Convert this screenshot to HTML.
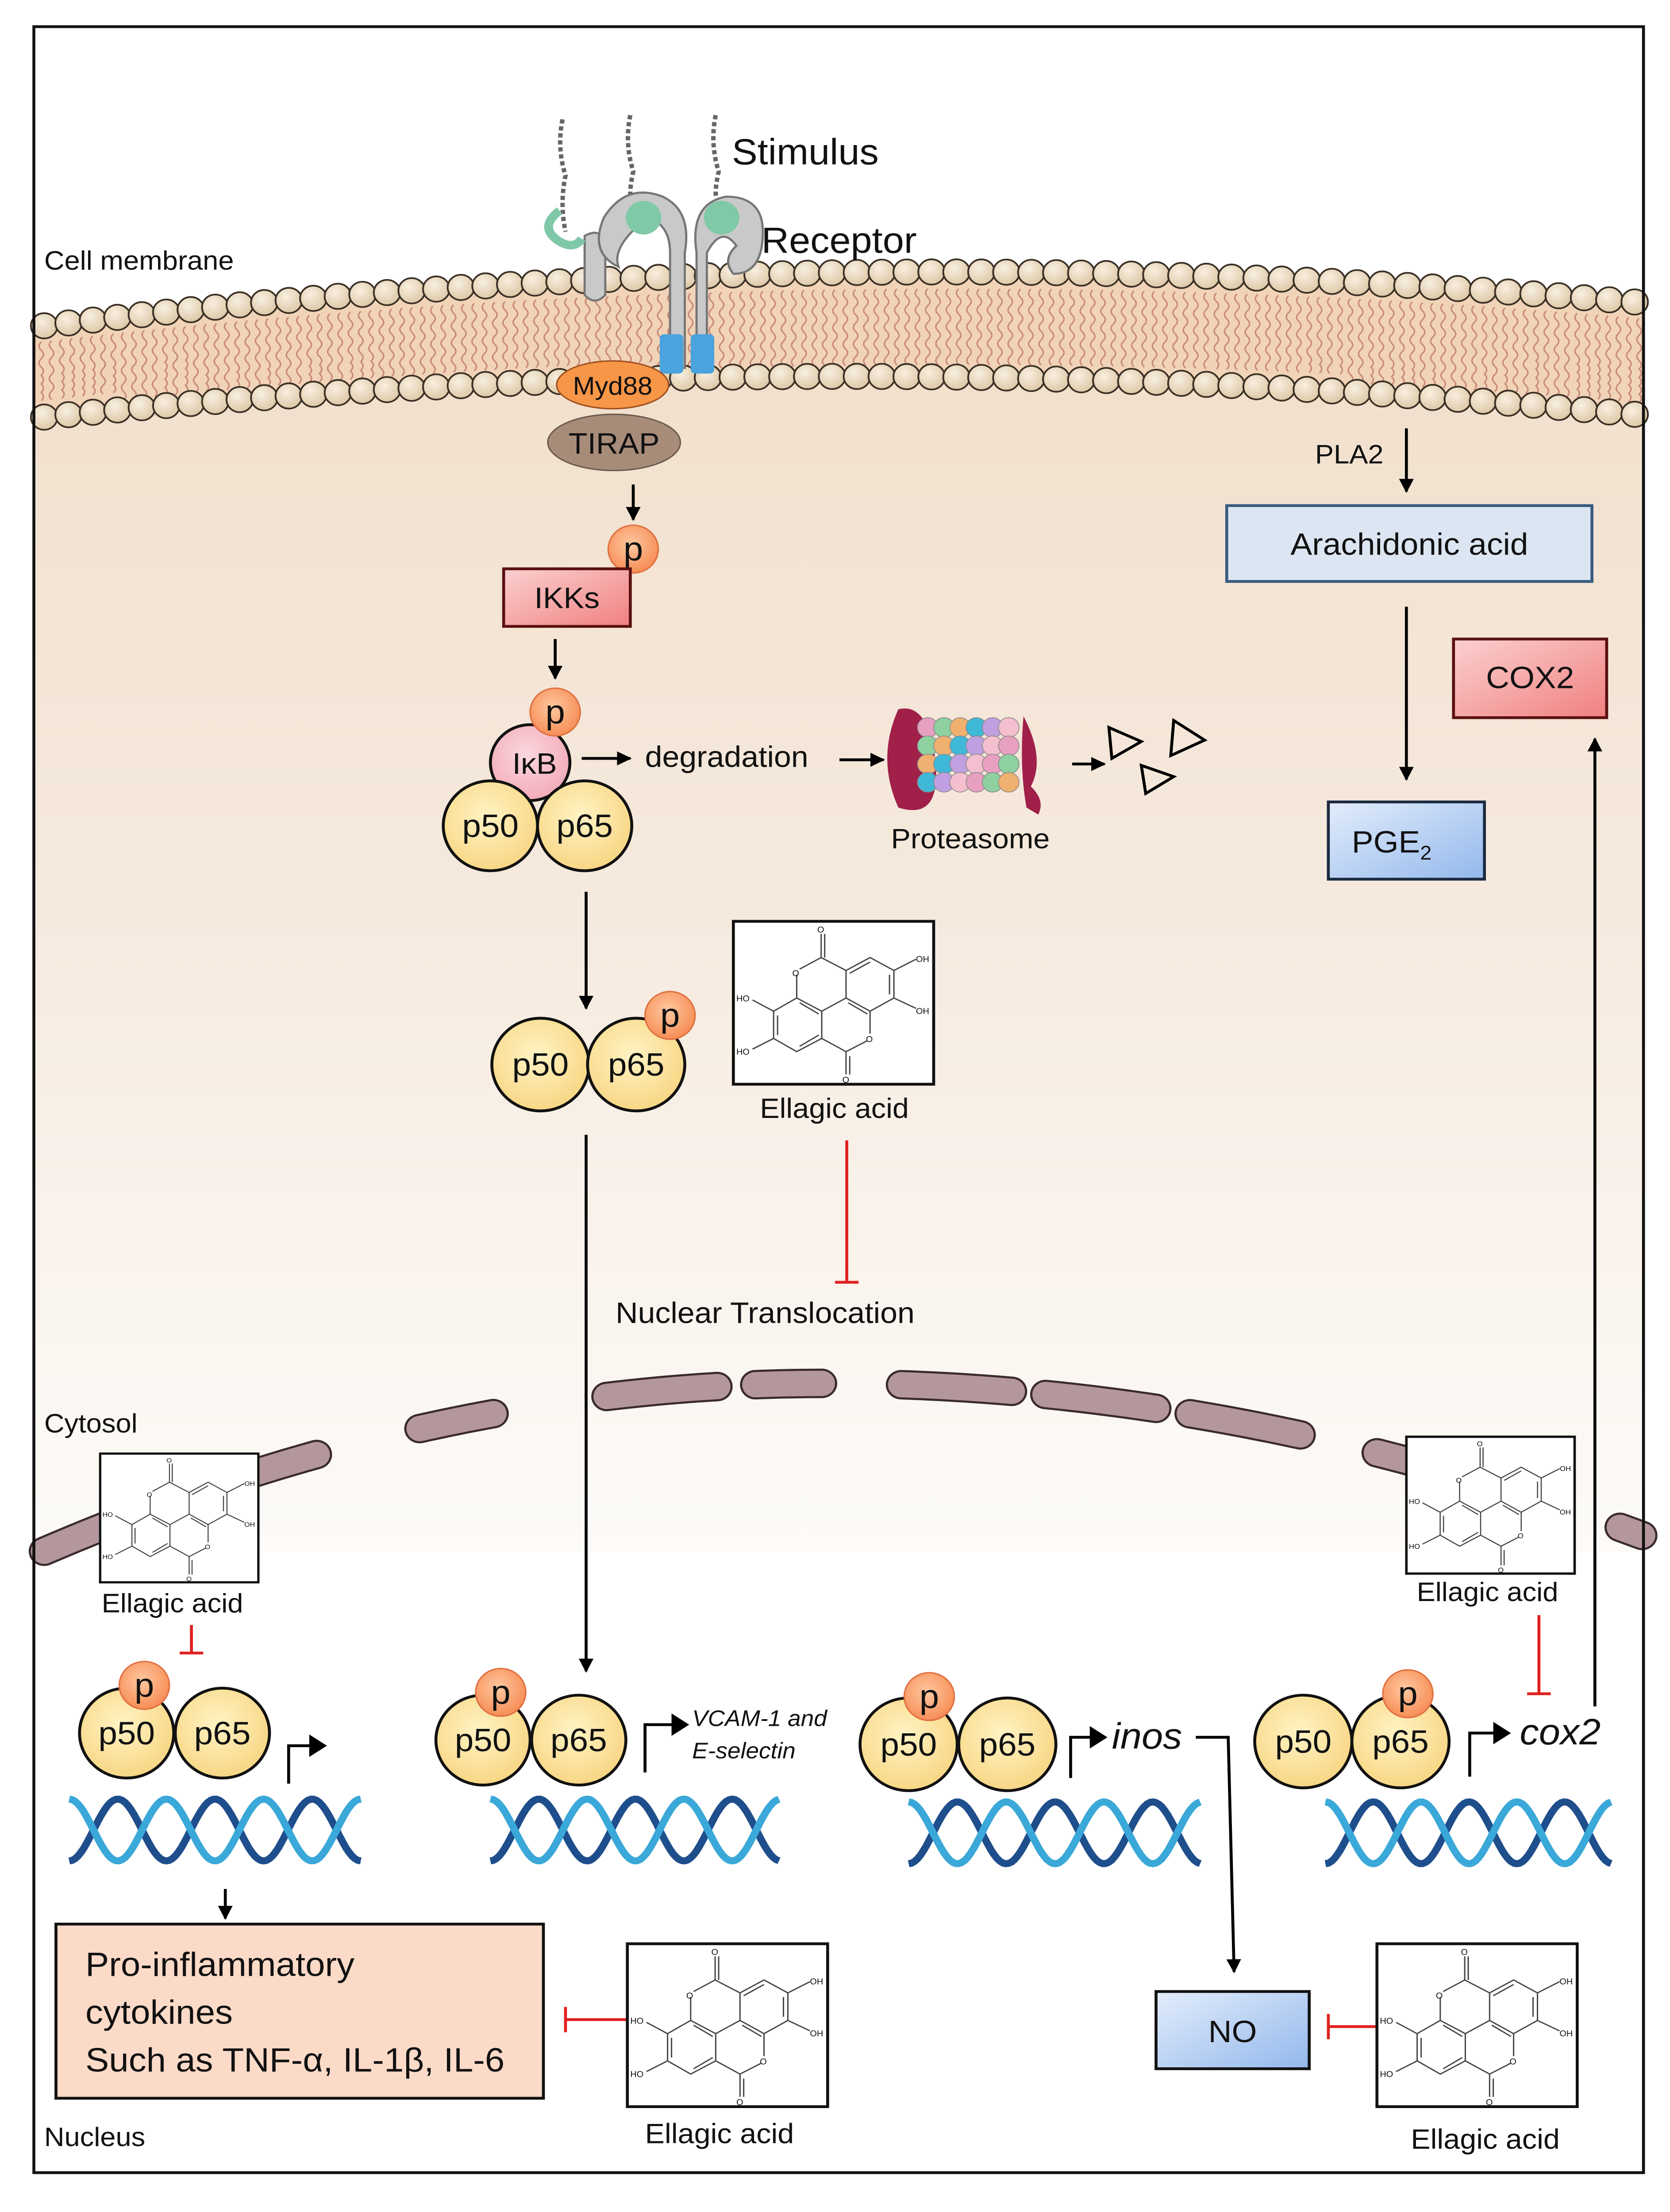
<!DOCTYPE html>
<html><head><meta charset="utf-8"><style>
html,body{margin:0;padding:0;background:#fff;width:100%;height:100%;overflow:hidden}
svg{display:block;width:100vw;height:100vh;position:absolute;left:0;top:0}
text{font-family:"Liberation Sans",sans-serif;fill:#111}
</style></head><body>
<svg id="s" viewBox="0 0 1134 1575" preserveAspectRatio="none" xmlns="http://www.w3.org/2000/svg">
<defs>
<linearGradient id="cyt" x1="0" y1="0" x2="0" y2="1">
<stop offset="0" stop-color="#f1dfcb"/><stop offset="0.5" stop-color="#f6ebe0"/><stop offset="1" stop-color="#fdfbf8"/></linearGradient>
<radialGradient id="yel" cx="0.45" cy="0.4" r="0.7"><stop offset="0" stop-color="#fff3c4"/><stop offset="1" stop-color="#f7d27a"/></radialGradient>
<radialGradient id="org" cx="0.45" cy="0.4" r="0.7"><stop offset="0" stop-color="#ffc8a0"/><stop offset="1" stop-color="#f5844a"/></radialGradient>
<radialGradient id="pnk" cx="0.45" cy="0.4" r="0.7"><stop offset="0" stop-color="#fbd7de"/><stop offset="1" stop-color="#f1a5b3"/></radialGradient>
<linearGradient id="red" x1="0" y1="0" x2="1" y2="1"><stop offset="0" stop-color="#fbd0d0"/><stop offset="1" stop-color="#f08080"/></linearGradient>
<linearGradient id="blu" x1="0" y1="0" x2="1" y2="1"><stop offset="0" stop-color="#e3edfb"/><stop offset="1" stop-color="#93b8ec"/></linearGradient>
<radialGradient id="bead" cx="0.4" cy="0.35" r="0.7"><stop offset="0" stop-color="#f8efe0"/><stop offset="1" stop-color="#dcc6a4"/></radialGradient>
<g id="ea">
<rect x="0" y="0" width="136" height="116" fill="#fff" stroke="#111" stroke-width="2"/>
<g fill="none" stroke="#444" stroke-width="0.9">
<path d="M59.6,25.8 L59.6,9 M59.6,25.8 L45,34 M43,38 L43,54.6 L60,64 L76.5,54.6 L76.5,35 L59.6,25.8 M76.5,35 L92.8,25.8 L109,35 L109,54.6 L92.8,64 L76.5,54.6 M92.8,64 L92.8,80 M91,85 L76.5,92.8 L60,83.4 L60,64 M43,54.6 L27.3,64 L27.3,83.4 L43,92.8 L60,83.4 M76.5,92.8 L76.5,109 M109,35 L124,27 M109,54.6 L124,62 M27.3,64 L13,56 M27.3,83.4 L13,91"/>
<path d="M62,25.8 L62,9 M79,96 L79,109 M79,37 L92.8,29 M106,38 L106,52 M78,58 L91,66 M45,58 L58,66 M30,67 L30,81 M45,89 L58,81"/>
</g>
<g font-size="6" fill="#333"><text x="57" y="8">O</text><text x="40" y="39">O</text><text x="90" y="86">O</text><text x="74" y="115">O</text><text x="124" y="29">OH</text><text x="124" y="66">OH</text><text x="2" y="57">HO</text><text x="2" y="95">HO</text></g>
</g>
<marker id="ah" viewBox="0 0 10 10" refX="9" refY="5" markerWidth="5" markerHeight="5" orient="auto"><path d="M0,0 L10,5 L0,10z" fill="#000"/></marker>
</defs>
<rect x="0" y="0" width="1134" height="1575" fill="#fff"/>
<rect x="23" y="240" width="1093" height="870" fill="url(#cyt)"/>
<rect x="23" y="1105" width="1093" height="440" fill="#fff"/>
<path d="M23,232 Q560,165 1116,215 L1116,295 Q560,240 23,297 Z" fill="#f1d3b8"/>
<g id="lip"></g>
<g id="beads"></g>
<g id="env"></g>
<rect x="23" y="19" width="1093" height="1528" fill="none" stroke="#111" stroke-width="2"/>
<text x="30" y="192" font-size="19">Cell membrane</text>
<text x="497" y="117" font-size="26">Stimulus</text>
<text x="517" y="180" font-size="26">Receptor</text>
<g fill="none" stroke="#666" stroke-width="3" stroke-dasharray="3,2">
<path d="M382,85 q-4,20 2,40 q-4,20 0,40"/><path d="M428,82 q-4,20 2,40 q-4,20 0,20"/><path d="M486,82 q-4,20 2,40 q-4,20 0,20"/></g>
<g stroke="#777" stroke-width="1.5" fill="#c9c9c9">
<path d="M397,168 q10,-6 14,4 v38 q-7,8 -14,0z"/>
<path d="M455,262 V180 q0,-20 -15,-25 q-25,20 -20,35 q-20,-10 -10,-35 q15,-25 40,-15 q20,10 15,40 V262z"/>
<path d="M473,262 V180 q-5,-35 20,-40 q25,0 25,25 q0,30 -20,30 q-8,-10 2,-20 q-10,-15 -20,5 V262z"/>
</g>
<path d="M380,150 q-15,12 0,22 q10,6 15,-2" fill="none" stroke="#7ec8a8" stroke-width="6"/>
<circle cx="437" cy="155" r="12" fill="#7fc9a6"/><circle cx="490" cy="155" r="12" fill="#7fc9a6"/>
<rect x="448" y="238" width="16" height="28" rx="3" fill="#4aa3dc"/><rect x="469" y="238" width="16" height="28" rx="3" fill="#4aa3dc"/>
<ellipse cx="416" cy="274" rx="38" ry="17" fill="#f79646" stroke="#a05020"/>
<text x="416" y="281" font-size="18" text-anchor="middle">Myd88</text>
<ellipse cx="417" cy="315" rx="45" ry="20" fill="#a88c7a" stroke="#6d5a4e"/>
<text x="417" y="323" font-size="21" text-anchor="middle">TIRAP</text>
<g stroke="#000" stroke-width="2" marker-end="url(#ah)" fill="none">
<line x1="430" y1="345" x2="430" y2="370"/>
<line x1="377" y1="455" x2="377" y2="483"/>
<line x1="395" y1="540" x2="428" y2="540"/>
<line x1="570" y1="541" x2="600" y2="541"/>
<line x1="728" y1="544" x2="750" y2="544"/>
<line x1="398" y1="635" x2="398" y2="718"/>
<line x1="398" y1="808" x2="398" y2="1190"/>
<line x1="955" y1="305" x2="955" y2="350"/>
<line x1="955" y1="432" x2="955" y2="555"/>
<line x1="1083" y1="1215" x2="1083" y2="526"/>
<line x1="153" y1="1345" x2="153" y2="1366"/>
<path d="M812,1237 H834 L838,1404"/>
</g>
<circle cx="430" cy="391" r="17" fill="url(#org)" stroke="#e07040"/><text x="430" y="399" font-size="24" text-anchor="middle">p</text>
<rect x="342" y="405" width="86" height="41" fill="url(#red)" stroke="#5a1010" stroke-width="2"/>
<text x="385" y="433" font-size="21" text-anchor="middle">IKKs</text>
<circle cx="360" cy="543" r="27" fill="url(#pnk)" stroke="#111" stroke-width="2"/>
<circle cx="377" cy="507" r="17" fill="url(#org)" stroke="#e07040"/><text x="377" y="515" font-size="24" text-anchor="middle">p</text>
<text x="363" y="551" font-size="21" text-anchor="middle">IκB</text>
<g id="dim1"></g>
<text x="438" y="546" font-size="21">degradation</text>
<g>
<path d="M610,505 q-15,35 0,70 q30,10 25,-35 q-5,-40 -25,-35z" fill="#a0204a"/>
<g id="prot"></g>
<path d="M695,510 q15,30 5,50 q10,10 5,20 l-8,-5 q-5,-30 -2,-65z" fill="#a0204a"/>
</g>
<g fill="none" stroke="#000" stroke-width="2"><polygon points="753,518 775,528 755,540"/><polygon points="797,513 818,527 795,538"/><polygon points="775,545 797,553 778,565"/></g>
<text x="605" y="604" font-size="20">Proteasome</text>
<g id="dim2"></g>
<use href="#ea" x="498" y="656"/>
<text x="516" y="796" font-size="20">Ellagic acid</text>
<g stroke="#e02020" stroke-width="2"><line x1="575" y1="812" x2="575" y2="912"/><line x1="567" y1="913" x2="583" y2="913"/>
<line x1="130" y1="1157" x2="130" y2="1176"/><line x1="122" y1="1177" x2="138" y2="1177"/>
<line x1="1045" y1="1150" x2="1045" y2="1205"/><line x1="1037" y1="1206" x2="1053" y2="1206"/>
<line x1="384" y1="1438" x2="426" y2="1438"/><line x1="384" y1="1429" x2="384" y2="1447"/>
<line x1="902" y1="1443" x2="935" y2="1443"/><line x1="902" y1="1434" x2="902" y2="1452"/></g>
<text x="418" y="942" font-size="21">Nuclear Translocation</text>
<text x="893" y="330" font-size="19">PLA2</text>
<rect x="833" y="360" width="248" height="54" fill="#dce6f2" stroke="#3a5a80" stroke-width="2"/>
<text x="957" y="395" font-size="22" text-anchor="middle">Arachidonic acid</text>
<rect x="902" y="571" width="106" height="55" fill="url(#blu)" stroke="#1a2a40" stroke-width="2"/>
<text x="945" y="607" font-size="22" text-anchor="middle">PGE<tspan font-size="14" dy="5">2</tspan></text>
<rect x="987" y="455" width="104" height="56" fill="url(#red)" stroke="#5a1010" stroke-width="2"/>
<text x="1039" y="490" font-size="22" text-anchor="middle">COX2</text>
<text x="30" y="1020" font-size="19">Cytosol</text>
<use href="#ea" transform="translate(68,1035) scale(0.79)"/>
<text x="69" y="1148" font-size="19">Ellagic acid</text>
<use href="#ea" transform="translate(955,1023) scale(0.84)"/>
<text x="962" y="1140" font-size="19">Ellagic acid</text>
<g id="nuc"></g>
<g fill="none" stroke="#000" stroke-width="2">
<path d="M196,1270 V1243 H212"/><path d="M438,1262 V1228 H458"/><path d="M727,1266 V1237 H742"/><path d="M998,1265 V1234 H1016"/>
</g>
<g fill="#000"><path d="M210,1235 l12,8 l-12,8z"/><path d="M456,1220 l12,8 l-12,8z"/><path d="M740,1229 l12,8 l-12,8z"/><path d="M1014,1226 l12,8 l-12,8z"/></g>
<text x="470" y="1229" font-size="16" font-style="italic">VCAM-1 and</text>
<text x="470" y="1252" font-size="16" font-style="italic">E-selectin</text>
<text x="755" y="1245" font-size="26" font-style="italic">inos</text>
<text x="1032" y="1242" font-size="26" font-style="italic">cox2</text>
<rect x="38" y="1370" width="331" height="124" fill="#fbdac8" stroke="#111" stroke-width="2"/>
<text x="58" y="1407" font-size="24">Pro-inflammatory</text>
<text x="58" y="1441" font-size="24">cytokines</text>
<text x="58" y="1475" font-size="24">Such as TNF-α, IL-1β, IL-6</text>
<use href="#ea" x="426" y="1384"/>
<text x="438" y="1526" font-size="20">Ellagic acid</text>
<rect x="785" y="1418" width="104" height="55" fill="url(#blu)" stroke="#111" stroke-width="2"/>
<text x="837" y="1454" font-size="22" text-anchor="middle">NO</text>
<use href="#ea" x="935" y="1384"/>
<text x="958" y="1530" font-size="20">Ellagic acid</text>
<text x="30" y="1528" font-size="19">Nucleus</text>
</svg>
<script>
var NS="http://www.w3.org/2000/svg";
function el(p,t,a,txt){var e=document.createElementNS(NS,t);for(var k in a)e.setAttribute(k,a[k]);if(txt)e.textContent=txt;document.getElementById(p).appendChild(e);return e;}
function q(p0,p1,p2,t){var u=1-t;return [u*u*p0[0]+2*u*t*p1[0]+t*t*p2[0],u*u*p0[1]+2*u*t*p1[1]+t*t*p2[1]];}
for(var x=28;x<1116;x+=7){var t=(x-23)/1093;var a=q([23,232],[560,165],[1116,215],t)[1]+12,b=q([23,297],[560,240],[1116,295],t)[1]-12;
var d="M"+x+","+a;for(var y=a;y<b;y+=6){d+=" q"+(((y-a)/6)%2?3:-3)+",3 0,6";}
el("lip","path",{d:d,fill:"none",stroke:"#c88a78","stroke-width":1});}
for(var i=0;i<=64;i++){var t=i/64;var p=q([30,232],[560,165],[1110,215],t);el("beads","circle",{cx:p[0],cy:p[1],r:9,fill:"url(#bead)",stroke:"#3a3025","stroke-width":1.2});
p=q([30,297],[560,240],[1110,295],t);el("beads","circle",{cx:p[0],cy:p[1],r:9,fill:"url(#bead)",stroke:"#3a3025","stroke-width":1.2});}
var segs=[[30,80],[140,215],[285,335],[412,487],[513,560],[612,687],[710,787],[808,885],[935,1010],[1100,1116]];
function ey(x){return 985+0.00037*Math.pow(x-560,2)*(x<560?1.15:0.95);}
segs.forEach(function(s){var d="M"+s[0]+","+ey(s[0]);for(var x=s[0]+5;x<=s[1];x+=5)d+=" L"+x+","+ey(x);
el("env","path",{d:d,fill:"none",stroke:"#3a2a2e","stroke-width":21,"stroke-linecap":"round"});
el("env","path",{d:d,fill:"none",stroke:"#b4979c","stroke-width":18,"stroke-linecap":"round"});});
function dimer(g,x1,y,x2,px,py,r){el(g,"circle",{cx:x1,cy:y,r:r,fill:"url(#yel)",stroke:"#111","stroke-width":2});
el(g,"circle",{cx:x2,cy:y,r:r,fill:"url(#yel)",stroke:"#111","stroke-width":2});
el(g,"text",{x:x1,y:y+8,"font-size":23,"text-anchor":"middle"},"p50");el(g,"text",{x:x2,y:y+8,"font-size":23,"text-anchor":"middle"},"p65");
if(px){el(g,"circle",{cx:px,cy:py,r:17,fill:"url(#org)",stroke:"#e07040"});el(g,"text",{x:px,y:py+8,"font-size":24,"text-anchor":"middle"},"p");}}
dimer("dim1",333,588,397,null,null,32);
dimer("dim2",367,758,432,455,723,33);
dimer("nuc",86,1234,151,98,1200,32);
dimer("nuc",328,1239,393,340,1205,32);
dimer("nuc",617,1242,684,631,1208,33);
dimer("nuc",885,1240,951,956,1206,33);
function dna(x0,x1,yc){["#1f4e8c","#3aa8d8"].forEach(function(c,k){var d="";for(var x=x0;x<=x1;x+=2){var y=yc+22*Math.cos((x-x0)/(x1-x0)*Math.PI*6+k*Math.PI);d+=(d?" L":"M")+x+","+y.toFixed(1);}
el("nuc","path",{d:d,fill:"none",stroke:c,"stroke-width":5});});}
dna(47,245,1303);dna(333,530,1303);dna(617,816,1305);dna(900,1095,1305);
var cols=["#e8a0c0","#8fd0a0","#f0b070","#40b8d8","#c0a0e0","#f4c0d0"];
for(var i=0;i<6;i++)for(var j=0;j<4;j++)el("prot","ellipse",{cx:630+i*11,cy:518+j*13,rx:7,ry:7,fill:cols[(i+j)%6],stroke:"#888","stroke-width":0.5});
</script>
</body></html>
